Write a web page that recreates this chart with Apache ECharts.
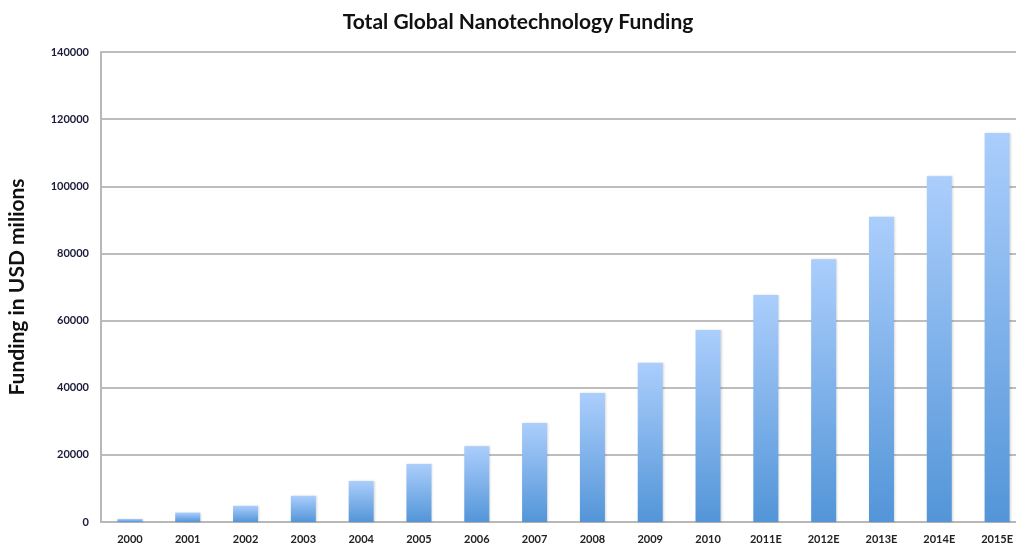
<!DOCTYPE html>
<html><head><meta charset="utf-8">
<script src="https://cdn.jsdelivr.net/npm/echarts@6/dist/echarts.min.js"></script>
<style>html,body{margin:0;padding:0;background:#fff}#c{width:1016px;height:548px}</style>
</head><body><div id="c"></div>
<script>
const categories = ['2000','2001','2002','2003','2004','2005','2006','2007','2008','2009','2010','2011E','2012E','2013E','2014E','2015E'];
const funding = [900, 2800, 4800, 7800, 12200, 17300, 22600, 29500, 38400, 47400, 57200, 67600, 78300, 90900, 103000, 115900];
const yTicks = [0, 20000, 40000, 60000, 80000, 100000, 120000, 140000];

const chart = echarts.init(document.getElementById('c'));
chart.setOption({
  animation: false,
  title: {
    text: 'Total Global Nanotechnology Funding',
    left: 513, top: 7, textAlign: 'center',
    textStyle: {fontFamily: 'Lato', fontWeight: 'bold', fontSize: 21, color: '#111'}
  },
  grid: {left: 101, top: 52, width: 925, height: 470, containLabel: false, outerBoundsMode: 'none'},
  xAxis: {
    type: 'category', data: categories,
    axisLine: {lineStyle: {color: '#b8b8b8', width: 2}},
    axisTick: {show: false},
    axisLabel: {fontFamily: 'Lato', fontWeight: 'bold', fontSize: 11, color: '#222', margin: 12}
  },
  yAxis: {
    type: 'value', min: yTicks[0], max: yTicks[yTicks.length-1], interval: 20000,
    name: 'Funding in USD milions', nameLocation: 'middle', nameGap: 73,
    nameTextStyle: {fontFamily: 'Lato', fontWeight: 'bold', fontSize: 21, color: '#111'},
    axisLine: {show: true, lineStyle: {color: '#b8b8b8', width: 2}},
    axisTick: {show: false},
    axisLabel: {fontFamily: 'Lato', fontWeight: 'bold', fontSize: 11, color: '#1a1a3a', margin: 12,
      formatter: v => String(v)},
    splitLine: {lineStyle: {color: '#bdbdbd', width: 2}}
  },
  series: [{
    type: 'bar', data: funding, barWidth: 25,
    itemStyle: {
      color: new echarts.graphic.LinearGradient(0, 0, 0, 1, [
        {offset: 0, color: '#abcefc'},
        {offset: 1, color: '#5395d8'}
      ]),
      shadowColor: 'rgba(0,0,0,0.15)', shadowBlur: 2, shadowOffsetX: 1, shadowOffsetY: 0
    }
  }]
});
</script></body></html>
